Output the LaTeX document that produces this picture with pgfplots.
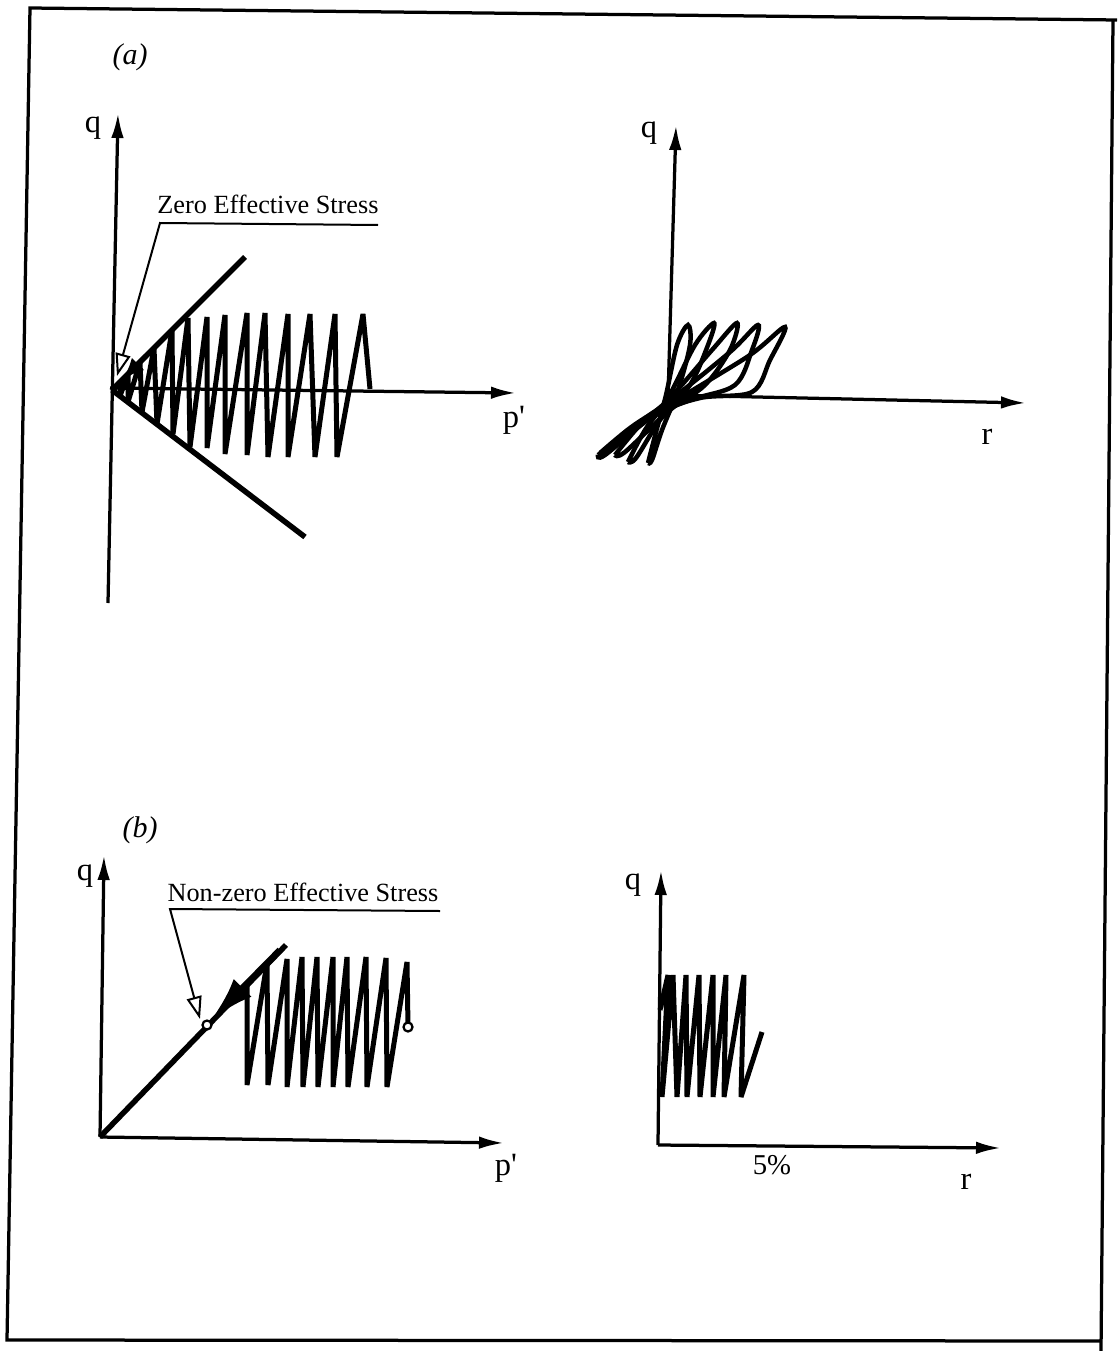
\documentclass[border=0pt]{standalone}
\usepackage{fontspec}
\setmainfont{Liberation Serif}
\usepackage{pgfplots}
\pgfplotsset{compat=1.18}
\usetikzlibrary{arrows.meta}

\tikzset{
  axarrow/.style={line width=1.3pt, -{Latex[length=10pt,width=5pt]}},
  path line/.style={line width=2pt, line join=miter, miter limit=2.5},
  loop line/.style={line width=1.8pt, smooth, tension=0.55},
  note line/.style={line width=0.8pt},
  lab/.style={font=\fontsize{13}{15}\selectfont},
}

\begin{document}
\begin{tikzpicture}
\begin{axis}[
  scale only axis,
  width=446.8pt, height=540.4pt,
  xmin=0, xmax=1117, ymin=0, ymax=1351,
  y dir=reverse,
  hide axis,
  clip=false,
]
% ---- outer frame ----
\addplot[black, line width=1.3pt] coordinates {(1117,20) (30,8) (7,1340) (1101,1341)};
\addplot[black, line width=1.3pt] coordinates {(1113,20) (1101,1351)};

% ================= (a) stress path, q vs p' =================
\addplot[axarrow] coordinates {(108,603) (118,113)};
\addplot[axarrow] coordinates {(110,388) (516,393)};
% failure envelopes
\addplot[black, line width=2.2pt] coordinates {(112,390) (245,257)};
\addplot[black, line width=2.2pt] coordinates {(112,390) (305,537)};
% cyclic path drifting to the origin
\addplot[path line] coordinates {
 (370,389) (363,314) (337,457) (335,314) (315,457) (310,314) (288,457)
 (288,314) (268,457) (265,313) (247,455) (247,313) (225,454) (225,315)
 (207,448) (207,317) (190,447) (188,318) (173,434) (172,330) (157,424)
 (154,348) (142,412) (140,362) (128,402) (128,374) (120,396) (120,382) (113,390)};
% path direction arrow near the origin
\addplot[line width=2pt, -{Latex[length=9pt,width=7pt]}] coordinates {(146,356) (122,380)};
% annotation
\addplot[note line, -{Triangle[open,length=9pt,width=6pt]}] coordinates {(378,225) (160,223) (117,376)};
\node[font=\fontsize{10.5}{12}\selectfont] at (axis cs:268,204) {Zero Effective Stress};

% ================= (a) stress-strain, q vs r =================
\addplot[axarrow] coordinates {(668,397) (676,125)};
\addplot[axarrow] coordinates {(668,395) (1026,403)};
\addplot[loop line] coordinates {
 (648,463) (656,432) (666,395) (677,345) (688,325) (690,345) (678,390) (662,430) (652,460) (648,463)};
\addplot[loop line] coordinates {
 (628,462) (645,430) (668,398) (695,345) (714,323) (708,345) (690,385) (660,420) (636,458) (628,462)};
\addplot[loop line] coordinates {
 (615,455) (640,425) (670,398) (712,350) (737,323) (730,350) (705,385) (670,410) (625,452) (615,455)};
\addplot[loop line] coordinates {
 (600,453) (630,428) (668,402) (730,352) (758,325) (752,350) (735,385) (690,400) (650,418) (608,452) (600,453)};
\addplot[loop line] coordinates {
 (598,455) (640,425) (680,398) (750,355) (785,327) (770,360) (752,392) (700,398) (655,415) (605,455) (598,455)};

% ================= (b) stress path, q vs p' =================
\addplot[axarrow] coordinates {(100,1137) (104,855)};
\addplot[axarrow] coordinates {(100,1137) (504,1143)};
\addplot[black, line width=2.2pt] coordinates {(100,1137) (286,945)};
\addplot[path line] coordinates {
 (408,1027) (407,962) (387,1087) (386,958) (367,1087) (366,957) (348,1087)
 (347,957) (333,1087) (333,957) (318,1087) (317,957) (303,1087) (302,957)
 (287,1087) (287,959) (268,1085) (267,963) (247,1085) (247,985)};
\addplot[line width=2.6pt, -{Latex[length=18pt,width=10pt]}] coordinates {(280,950) (211,1020)};
\addplot[only marks, mark=*, mark size=1.8pt, mark options={fill=white, line width=0.9pt}]
  coordinates {(207,1025) (408,1027)};
\addplot[note line, -{Triangle[open,length=9pt,width=6pt]}] coordinates {(440,911) (170,909) (200,1019)};
\node[font=\fontsize{10.5}{12}\selectfont] at (axis cs:303,892) {Non-zero Effective Stress};

% ================= (b) stress-strain, q vs r =================
\addplot[axarrow] coordinates {(658,1145) (661,870)};
\addplot[axarrow] coordinates {(658,1145) (1001,1148)};
\addplot[path line] coordinates {
 (660,1010) (668,975) (662,1097) (673,975) (677,1097) (686,975) (687,1097)
 (699,975) (700,1097) (713,975) (713,1097) (726,975) (724,1097) (744,975)
 (741,1097) (762,1032)};

% ---- labels ----
\node[font=\fontsize{12}{14}\selectfont\itshape] at (axis cs:130,57) {(a)};
\node[font=\fontsize{12}{14}\selectfont\itshape] at (axis cs:140,830) {(b)};
\node[lab] at (axis cs:93,128) {q};
\node[lab] at (axis cs:514,420) {p\textquotesingle};
\node[lab] at (axis cs:649,133) {q};
\node[lab] at (axis cs:987,437) {r};
\node[lab] at (axis cs:85,876) {q};
\node[lab] at (axis cs:506,1168) {p\textquotesingle};
\node[lab] at (axis cs:633,885) {q};
\node[font=\fontsize{11.5}{13}\selectfont] at (axis cs:772,1165) {5\%};
\node[lab] at (axis cs:966,1182) {r};
\end{axis}
\pgfresetboundingbox
\useasboundingbox (0,0) rectangle (446.8pt,540.4pt);
\end{tikzpicture}
\end{document}
